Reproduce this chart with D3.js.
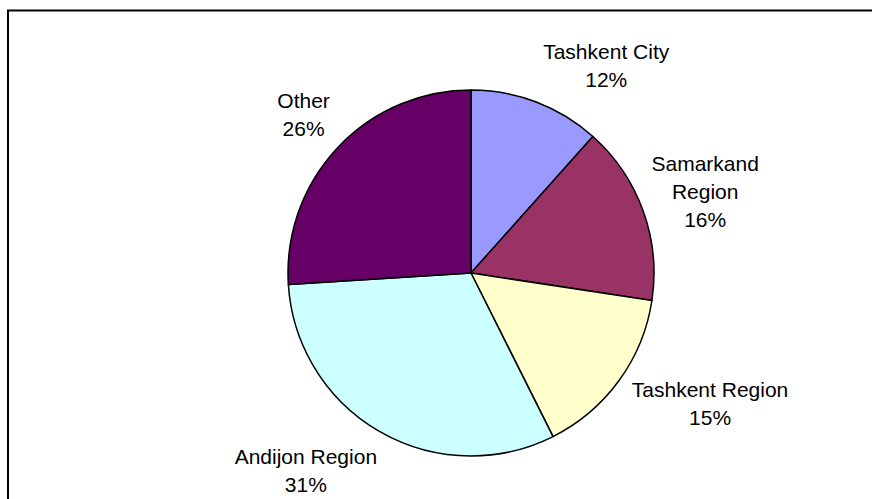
<!DOCTYPE html>
<html>
<head>
<meta charset="utf-8">
<script src="https://cdn.jsdelivr.net/npm/d3@7"></script>
<style>
  html, body { margin: 0; padding: 0; background: #fff; }
  svg { display: block; }
  text { font-family: "Liberation Sans", Arial, sans-serif; fill: #000; }
</style>
</head>
<body>
<svg id="chart" width="872" height="499"></svg>
<script>
// Share of total by region (percent), clockwise from 12 o'clock
const regions = ["Tashkent City", "Samarkand Region", "Tashkent Region", "Andijon Region", "Other"];
const shares  = [11.6, 15.8, 15.2, 31.4, 26.0];
// Line breaks used for each data label
const labelLines = [["Tashkent City"], ["Samarkand", "Region"], ["Tashkent Region"], ["Andijon Region"], ["Other"]];
const sliceColors = ["#9999ff", "#993366", "#ffffcc", "#ccffff", "#660066"];

// Label box displacement from the slice's outer edge at its mid-angle
const labelOffsets = [[70, -37], [62, -20], [91, 23], [-74, 39], [-34, -33]];

const W = 872, H = 499;
const cx = 471, cy = 273, R = 183;
const fontSize = 21, lineH = 28;

const svg = d3.select("#chart");

// chart frame (runs off the right and bottom edges)
svg.append("rect")
  .attr("x", 8).attr("y", 10.5)
  .attr("width", 900).attr("height", 600)
  .attr("fill", "#fff")
  .attr("stroke", "#000")
  .attr("stroke-width", 2);

const data = regions.map((name, i) => ({ name, value: shares[i], lines: labelLines[i], color: sliceColors[i], i }));

const pie = d3.pie().value(d => d.value).sort(null);
const arcs = pie(data);
const arc = d3.arc().innerRadius(0).outerRadius(R);

const g = svg.append("g").attr("transform", `translate(${cx},${cy})`);

g.selectAll("path.slice")
  .data(arcs)
  .join("path")
  .attr("class", "slice")
  .attr("d", arc)
  .attr("fill", d => d.data.color)
  .attr("stroke", "#000")
  .attr("stroke-width", 1.5)
  .attr("stroke-linejoin", "round");

// data labels: name lines followed by the rounded percentage
const labels = g.selectAll("text.lbl")
  .data(arcs)
  .join("text")
  .attr("class", "lbl")
  .attr("text-anchor", "middle")
  .attr("font-size", fontSize);

labels.each(function(d) {
  const mid = (d.startAngle + d.endAngle) / 2;
  const ox = R * Math.sin(mid), oy = -R * Math.cos(mid);
  const off = labelOffsets[d.data.i];
  const lx = ox + off[0], ly = oy + off[1];
  const lines = d.data.lines.concat([d3.format(".0f")(d.data.value) + "%"]);
  const n = lines.length;
  const t = d3.select(this);
  lines.forEach((s, k) => {
    t.append("tspan")
      .attr("x", lx)
      .attr("y", ly + (k - (n - 1) / 2) * lineH + fontSize * 0.36)
      .text(s);
  });
});
</script>
</body>
</html>
